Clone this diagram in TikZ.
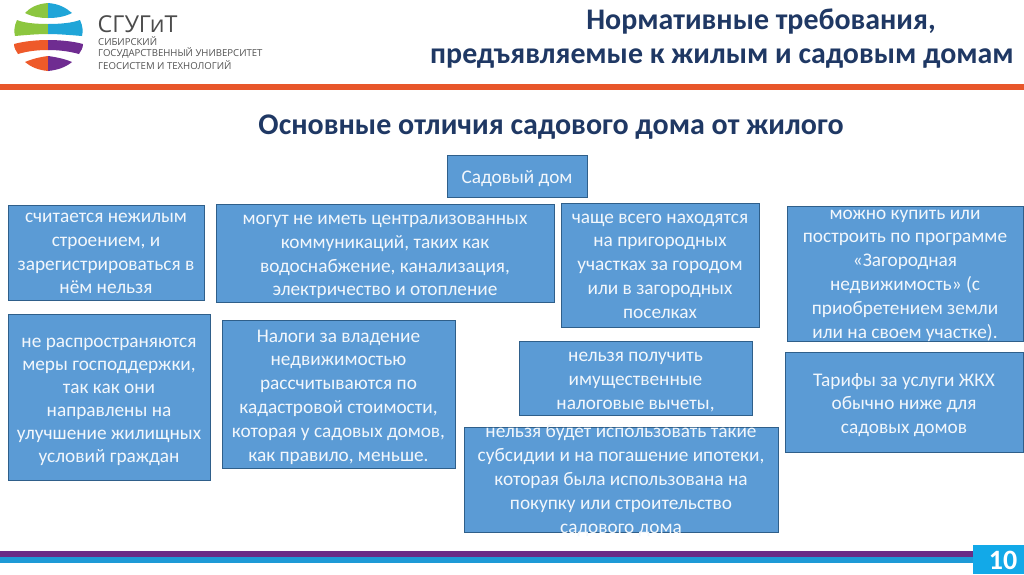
\documentclass[tikz,border=0pt]{standalone}
\usepackage{fontspec}
\setmainfont{Carlito}
\newfontfamily\logofont{Open Sans}
\definecolor{boxfill}{HTML}{5B9BD5}
\definecolor{boxline}{HTML}{2F5F8A}
\definecolor{titlecol}{HTML}{1F3864}
\definecolor{orangebar}{HTML}{E8562A}
\definecolor{purplebar}{HTML}{6A2C86}
\definecolor{bluebar}{HTML}{1E9AD6}
\definecolor{cyanbox}{HTML}{12A9E8}
\definecolor{lgreen}{HTML}{8CC63F}
\definecolor{lblue}{HTML}{1FA5D8}
\definecolor{lred}{HTML}{EE5A2A}
\definecolor{lpurple}{HTML}{6F2C91}
\tikzset{
  x=1pt,y=-1pt,
  bluebox/.style={draw=boxline,fill=boxfill,line width=1pt,inner sep=0pt},
  boxtext/.style={text=white!92!boxfill,align=center,inner sep=0pt,font=\fontsize{19.3}{23.8}\selectfont},
  titletext/.style={text=titlecol,align=center,font=\bfseries\fontsize{29.9}{34}\selectfont},
  subtitle/.style={text=titlecol,font=\bfseries\fontsize{30}{34}\selectfont},
  logosmall/.style={text=black!68,anchor=west,inner sep=0pt,font=\logofont\fontsize{9.6}{11}\selectfont},
}
\newcommand{\bbox}[7][]{%
  \path[bluebox] (#3,#4) rectangle (#5,#6);
  \node[boxtext,#1] (#2) at ({(#3+#5)/2},{(#4+#6)/2}) {#7};
}
\begin{document}
\begin{tikzpicture}
\useasboundingbox (0,0) rectangle (1024,574);
\fill[white] (0,0) rectangle (1024,574);
% logo
\fill[lgreen] (48,3) .. controls (36,4) and (30,8) .. (25,13) .. controls (33,17) and (40,18) .. (48,18) -- cycle;
\fill[lblue] (48,3) .. controls (60,4) and (66,8) .. (72,13) .. controls (64,17) and (56,18) .. (48,18) -- cycle;
\fill[lgreen] (48,24) .. controls (36,24) and (24,23) .. (17,20) .. controls (14,26) and (14,32) .. (15,36) .. controls (26,35) and (38,34) .. (48,34) -- cycle;
\fill[lblue] (48,24) .. controls (60,24) and (72,23) .. (80,20) .. controls (83,26) and (83,32) .. (82,36) .. controls (70,35) and (58,34) .. (48,34) -- cycle;
\fill[lred] (48,40) .. controls (38,40) and (25,41) .. (14,44) .. controls (14,48) and (16,51) .. (18,54) .. controls (28,51) and (38,50) .. (48,50) -- cycle;
\fill[lpurple] (48,40) .. controls (58,40) and (72,41) .. (83,44) .. controls (83,48) and (81,51) .. (79,54) .. controls (68,51) and (58,50) .. (48,50) -- cycle;
\fill[lred] (48,56) .. controls (40,57) and (32,59) .. (25,62) .. controls (31,67) and (38,70) .. (48,71) -- cycle;
\fill[lpurple] (48,56) .. controls (56,57) and (65,59) .. (72,62) .. controls (66,67) and (58,70) .. (48,71) -- cycle;
\node[anchor=west,inner sep=0pt,text=black!70,font=\logofont\fontsize{23.3}{26}\selectfont] (brand) at (97.5,24) {СГУГиТ};
\node[logosmall] (l1) at (98,41) {СИБИРСКИЙ};
\node[logosmall] (l2) at (98,53) {ГОСУДАРСТВЕННЫЙ УНИВЕРСИТЕТ};
\node[logosmall] (l3) at (98,65) {ГЕОСИСТЕМ И ТЕХНОЛОГИЙ};
% title
\node[titletext] (title) at (722,39) {\hspace{78pt}Нормативные требования,\\предъявляемые к жилым и садовым домам};
\fill[orangebar] (0,84) rectangle (1024,90);
\node[subtitle] (sub) at (551,127) {Основные отличия садового дома от жилого};
% boxes
\bbox[yshift=-3pt]{top}{447}{155}{587}{197}{Садовый дом}
\bbox[yshift=-1pt]{a}{8}{205}{204}{300}{считается нежилым\\строением, и\\зарегистрироваться в\\нём нельзя}
\bbox[yshift=-4pt]{b}{216}{204}{554}{302}{могут не иметь централизованных\\коммуникаций, таких как\\водоснабжение, канализация,\\электричество и отопление}
\bbox[yshift=-1pt]{c}{561}{203}{759}{327}{чаще всего находятся\\на пригородных\\участках за городом\\или в загородных\\поселках}
\bbox[yshift=-2pt]{d}{787}{206}{1023}{341}{можно купить или\\построить по программе\\«Загородная\\недвижимость» (с\\приобретением земли\\или на своем участке).}
\bbox[yshift=-5pt,font=\fontsize{19.3}{22.9}\selectfont]{e}{8}{314}{210}{480}{не распространяются\\меры господдержки,\\так как они\\направлены на\\улучшение жилищных\\условий граждан}
\bbox[yshift=-3pt]{f}{222}{320}{455}{468}{Налоги за владение\\недвижимостью\\рассчитываются по\\кадастровой стоимости,\\которая у садовых домов,\\как правило, меньше.}
\bbox[yshift=-4pt]{g}{519}{341}{752}{415}{нельзя получить\\имущественные\\налоговые вычеты,}
\bbox[yshift=-1pt]{h}{464}{427}{778}{532}{нельзя будет использовать такие\\субсидии и на погашение ипотеки,\\которая была использована на\\покупку или строительство\\садового дома}
\bbox[yshift=-3pt]{i}{785}{352}{1023}{452}{Тарифы за услуги ЖКХ\\обычно ниже для\\садовых домов}
% footer
\fill[purplebar] (0,551) rectangle (973,557);
\fill[bluebar] (0,557) rectangle (973,563);
\fill[cyanbox] (973,545) rectangle (1024,574);
\node[text=white,font=\bfseries\fontsize{28}{30}\selectfont] (num) at (1003,560) {10};
\end{tikzpicture}
\end{document}
